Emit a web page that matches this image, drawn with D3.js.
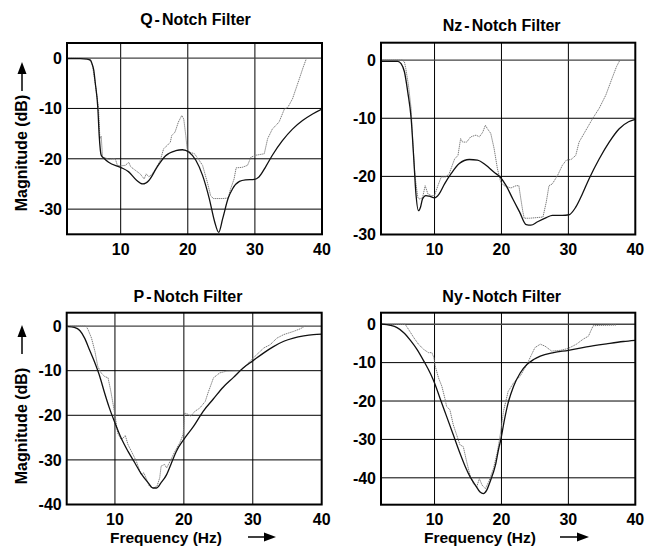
<!DOCTYPE html>
<html><head><meta charset="utf-8">
<script src="https://cdn.jsdelivr.net/npm/d3@7"></script>
<style>
html,body{margin:0;padding:0;background:#fff;}
text{font-family:"Liberation Sans",Arial,Helvetica,sans-serif;font-weight:bold;fill:#000;}
</style></head><body>
<svg id="chart" width="653" height="548"></svg>
<script>
// ---------- DATA ----------
const panelNames = ["Q", "Nz", "P", "Ny"];
const xTicks = [10, 20, 30, 40];
const qYTicks = [0, -10, -20, -30];
const nzYTicks = [0, -10, -20, -30];
const pYTicks = [0, -10, -20, -30, -40];
const nyYTicks = [0, -10, -20, -30, -40];

// [frequency Hz, magnitude dB]
const qTheory = [[2,-0.1],[4,-0.1],[5,-0.2],[5.5,-0.4],[5.7,-1],[6,-2.5],[6.2,-4.8],[6.6,-10],[6.8,-15.4],[7.1,-19.3],[7.5,-19.9],[8.2,-20.7],[10,-21.7],[11.2,-22.6],[12.4,-24.3],[13.3,-25],[14.2,-24.3],[15.4,-21.7],[16.7,-19.4],[18.2,-18.4],[19.2,-18.2],[20.2,-18.7],[21.2,-20.3],[22.2,-23.3],[23.2,-27.9],[24,-32.5],[24.6,-34.6],[25.2,-31.9],[26,-27.9],[26.7,-25.9],[27.7,-24.5],[28.6,-24.2],[29.9,-24.1],[30.6,-23.6],[31.6,-21.6],[32.6,-19.3],[34.1,-16.4],[35.6,-14.1],[37.1,-12.4],[38.6,-11.1],[40,-10.1]];
const qMeasured = [[2,0],[5,-0.1],[5.5,-0.5],[5.8,-1.5],[6.2,-5],[6.7,-10],[6.9,-16],[7.1,-15.5],[7.3,-19.7],[7.7,-19.8],[8.2,-20.1],[9.2,-20],[9.5,-21.3],[10,-21.4],[10.7,-21.3],[11.2,-20.7],[11.5,-21.6],[12.2,-22.3],[12.9,-23],[13.5,-24],[13.8,-23],[14.2,-23.6],[14.7,-23],[15.2,-22],[15.9,-20.3],[16.4,-18],[16.9,-17.4],[17.4,-16.7],[17.6,-15.4],[18.1,-14.7],[18.6,-12.7],[19.1,-11.4],[19.4,-12.1],[19.7,-15.4],[19.9,-18],[20.3,-18.7],[21,-19],[21.7,-20.3],[22.2,-21.3],[22.9,-24.6],[23.4,-27.3],[23.8,-27.9],[25.2,-27.9],[26,-27.8],[26.4,-25.9],[26.9,-24],[27.2,-21.8],[28.1,-21.7],[28.9,-21.3],[29.4,-19.7],[30.1,-19.3],[31.4,-19],[31.9,-16],[32.6,-14.1],[33.6,-12.7],[34.4,-10.1],[34.9,-9.8],[35.6,-8.1],[36.6,-4.2],[37.2,-1.8],[37.7,0]];

const nzTheory = [[2,-0.2],[4.5,-0.2],[5,-0.6],[5.5,-2],[6,-5.5],[6.5,-10],[6.9,-17],[7.2,-22.7],[7.6,-25.9],[7.9,-25.3],[8.2,-23.9],[8.7,-23.3],[9.2,-23.4],[10,-23.7],[10.7,-23],[11.5,-21.3],[12.5,-19.5],[13.7,-17.8],[15.2,-17.1],[16.4,-17.2],[17.7,-18.1],[18.9,-19.3],[19.8,-20.1],[20.7,-21.6],[21.7,-23.9],[22.7,-26.1],[23.7,-28.3],[24.4,-28.4],[25.4,-27.8],[26.7,-27.1],[27.6,-26.7],[29.1,-26.7],[30.1,-26.6],[31.1,-25.3],[32.1,-23],[33.1,-20.4],[34.6,-17],[36.1,-14.1],[37.6,-11.8],[39,-10.6],[40,-10.2]];
const nzMeasured = [[2,0],[5.2,0],[5.5,-0.3],[5.7,-1.4],[6.1,-4.3],[6.5,-8.3],[6.7,-12.9],[7,-18.7],[7.2,-21],[7.5,-23.6],[7.7,-23.9],[8.2,-23.7],[8.6,-21.6],[9,-23],[9.5,-23.3],[10,-23.3],[10.5,-21.6],[11,-20.1],[11.7,-20.1],[12.2,-19.5],[13,-17],[13.5,-16.4],[13.9,-13.5],[14.2,-14.1],[14.8,-14.1],[15.4,-13.2],[16.2,-12.9],[16.7,-13.2],[17.2,-12.4],[17.6,-11.2],[17.9,-11.8],[18.4,-12.6],[18.9,-15.2],[19.4,-18.7],[19.9,-21],[20.4,-21.6],[21.4,-22],[22.2,-21.6],[22.6,-21.6],[22.9,-23.9],[23.2,-26.1],[23.4,-27.2],[24.2,-27.2],[26.2,-27],[26.7,-24.4],[27.1,-21.6],[27.6,-21.3],[28.4,-19.8],[29.1,-18.1],[29.7,-17.2],[30.4,-17.1],[31.1,-16.4],[31.6,-14.1],[32.6,-12.1],[33.6,-10.1],[34.6,-8.3],[35.6,-6],[36.6,-2.9],[37.2,-1.1],[37.7,0]];

const pTheory = [[3.2,-0.1],[4.1,-0.3],[4.9,-1],[5.6,-2.7],[6.3,-5.3],[7,-7.9],[7.8,-11.3],[8.5,-15],[9.2,-18.4],[10,-21.7],[10.9,-25.1],[11.9,-28.1],[12.9,-30.7],[13.8,-33.1],[14.8,-35.1],[15.5,-36.3],[16,-36.3],[16.7,-35.1],[17.5,-33.3],[18.2,-30.7],[18.9,-28.1],[20,-25.4],[21.4,-22.5],[22.8,-19.1],[24.3,-16.3],[25.7,-13.7],[27.2,-11.5],[28.6,-9.4],[30,-7.8],[31.6,-6],[33,-4.6],[34.5,-3.4],[35.9,-2.7],[37.4,-2.2],[38.8,-1.9],[40,-1.8]];
const pMeasured = [[3.2,0],[5.8,0],[6.1,-0.8],[6.6,-2.7],[7.1,-5.7],[7.5,-9],[8,-10.5],[8.5,-11.3],[9,-11.6],[9.4,-14.6],[9.7,-17.2],[10,-19.9],[10.4,-24],[10.9,-25.4],[11.2,-25.1],[11.5,-24.5],[11.9,-26.6],[12.4,-28.1],[13.1,-30.3],[13.8,-33.3],[14.2,-32.9],[14.6,-34.4],[15,-35.9],[15.6,-36.3],[16.1,-35.9],[16.5,-34],[16.7,-31.4],[17.2,-31],[17.5,-31.8],[18,-30.3],[18.7,-28.1],[19.4,-26.2],[19.9,-24.3],[20.1,-19.5],[20.5,-19.7],[21,-20.2],[21.6,-19.1],[22.3,-18.4],[23.1,-16.9],[23.5,-15],[24.3,-11.6],[25.2,-10.5],[26.2,-10.1],[28.2,-10],[28.9,-9],[29.6,-7.9],[30.3,-6.8],[31.6,-4.9],[32.5,-4.2],[33.5,-2.7],[34.5,-1.9],[35.9,-1.2],[36.9,-0.6],[37.6,0]];

const nyTheory = [[2.1,0],[3.4,-0.3],[4.4,-0.9],[5.4,-2.2],[6.4,-4.2],[7.4,-6.6],[8.4,-9.6],[9.4,-12.9],[10,-15.3],[10.8,-19.2],[11.8,-24],[12.8,-28.8],[13.8,-33.6],[14.6,-37.1],[15.3,-39.7],[16.1,-41.9],[16.8,-43.7],[17.3,-44.1],[17.8,-43.2],[18.3,-41],[19.1,-36.7],[19.6,-32.3],[19.9,-30.1],[20.4,-25.3],[21,-20.5],[21.8,-16.2],[22.8,-12.7],[23.8,-10.5],[24.8,-9.2],[25.8,-8.3],[27.8,-7.4],[30,-6.8],[32.7,-5.9],[35.7,-5.1],[38.2,-4.5],[40,-4.2]];
const nyMeasured = [[2.1,0],[5.6,0],[6.1,-1.3],[6.9,-3.5],[7.6,-5.2],[8.4,-6.6],[9.1,-7.4],[9.6,-7.4],[9.9,-8.7],[10.1,-10.9],[10.6,-14],[11.1,-16.2],[11.6,-19.7],[11.8,-21.4],[12.3,-22.3],[12.8,-26.2],[13.3,-28.8],[13.8,-31.4],[14.3,-31.9],[14.8,-35.8],[15.3,-39.3],[15.8,-41.5],[16.3,-42.4],[16.7,-40.2],[17.1,-41.9],[17.6,-42.8],[18.1,-41],[18.8,-37.6],[19.4,-33.2],[19.9,-27.9],[20.3,-22.7],[20.7,-19.7],[21,-17.5],[21.8,-15.3],[22.8,-13.5],[23.8,-10.5],[24.5,-7.9],[25,-6.1],[25.8,-5.2],[26.5,-5.7],[27.5,-7],[28.8,-6.8],[30,-6.3],[31.2,-5.2],[32.2,-3.9],[33,-3.1],[33.7,-0.4],[34.7,-0.3],[37.2,-0.2]];

// ---------- LAYOUT ----------
const panels = [
  {title:"Q", xDom:[2,40], yDom:[-35,3], yTicks:qYTicks, theory:qTheory, meas:qMeasured,
   x0:67, x1:322, y0:234.3, y1:43, titleX:195.5, titleY:25, ylab:{x:27, cy:153, arrowX:22, tip:62, tail:91}, xlab:null},
  {title:"Nz", xDom:[2,40], yDom:[-30,3], yTicks:nzYTicks, theory:nzTheory, meas:nzMeasured,
   x0:381, x1:635.3, y0:234.5, y1:42.7, titleX:501.7, titleY:31, ylab:null, xlab:null},
  {title:"P", xDom:[3,40], yDom:[-40,3], yTicks:pYTicks, theory:pTheory, meas:pMeasured,
   x0:66.7, x1:321.7, y0:504.5, y1:312.7, titleX:188, titleY:302, ylab:{x:27, cy:426, arrowX:22, tip:325, tail:354}, xlab:{x:110, y:543, a0:248, a1:276, ay:537}},
  {title:"Ny", xDom:[2,40], yDom:[-47,3], yTicks:nyYTicks, theory:nyTheory, meas:nyMeasured,
   x0:381, x1:635.3, y0:504.7, y1:312.7, titleX:501.7, titleY:302, ylab:null, xlab:{x:424, y:543, a0:560, a1:589, ay:537}}
];

const svg = d3.select("#chart");
const defs = svg.append("defs");

panels.forEach((p, i) => {
  const x = d3.scaleLinear().domain(p.xDom).range([p.x0, p.x1]);
  const y = d3.scaleLinear().domain(p.yDom).range([p.y0, p.y1]);
  const g = svg.append("g");

  defs.append("clipPath").attr("id", "clip" + i).append("rect")
    .attr("x", p.x0).attr("y", p.y1).attr("width", p.x1 - p.x0).attr("height", p.y0 - p.y1);

  // grid lines
  g.selectAll(".vg").data(xTicks.filter(t => t < p.xDom[1])).join("line")
    .attr("x1", d => x(d)).attr("x2", d => x(d)).attr("y1", p.y1).attr("y2", p.y0)
    .attr("stroke", "#000").attr("stroke-width", 1);
  g.selectAll(".hg").data(p.yTicks.filter(t => t > p.yDom[0])).join("line")
    .attr("x1", p.x0).attr("x2", p.x1).attr("y1", d => y(d)).attr("y2", d => y(d))
    .attr("stroke", d => d === 0 ? "#444" : "#000").attr("stroke-width", d => d === 0 ? 1.4 : 1);

  const line = d3.line().x(d => x(d[0])).y(d => y(d[1]));
  const cg = g.append("g").attr("clip-path", "url(#clip" + i + ")");
  cg.append("path").datum(p.meas)
    .attr("d", line.curve(d3.curveLinear))
    .attr("fill", "none").attr("stroke", "#7a7a7a").attr("stroke-width", 1)
    .attr("stroke-dasharray", "1.3,0.7");
  cg.append("path").datum(p.theory)
    .attr("d", d3.line().x(d => x(d[0])).y(d => y(d[1])).curve(d3.curveMonotoneX))
    .attr("fill", "none").attr("stroke", "#111").attr("stroke-width", 1.3);

  // frame
  g.append("rect").attr("x", p.x0).attr("y", p.y1)
    .attr("width", p.x1 - p.x0).attr("height", p.y0 - p.y1)
    .attr("fill", "none").attr("stroke", "#000").attr("stroke-width", 2);

  // tick labels
  g.selectAll(".yt").data(p.yTicks).join("text")
    .attr("x", p.x0 - 5).attr("y", d => y(d)).attr("dy", "0.36em")
    .attr("text-anchor", "end").attr("font-size", 16).text(d => d);
  g.selectAll(".xt").data(xTicks).join("text")
    .attr("x", d => x(d)).attr("y", p.y0 + 20.5)
    .attr("text-anchor", "middle").attr("font-size", 16).text(d => d);

  // title
  const t = g.append("text").attr("x", p.titleX).attr("y", p.titleY)
    .attr("text-anchor", "middle").attr("font-size", 16);
  t.append("tspan").text(p.title);
  t.append("tspan").attr("dx", 2).text("-");
  t.append("tspan").attr("dx", 2).text("Notch Filter");

  // y label with arrow
  if (p.ylab) {
    g.append("text").attr("transform", `translate(${p.ylab.x},${p.ylab.cy}) rotate(-90)`)
      .attr("text-anchor", "middle").attr("font-size", 16).text("Magnitude (dB)");
    g.append("line").attr("x1", p.ylab.arrowX).attr("x2", p.ylab.arrowX)
      .attr("y1", p.ylab.tail).attr("y2", p.ylab.tip + 8)
      .attr("stroke", "#000").attr("stroke-width", 1.5);
    g.append("path").attr("d", `M${p.ylab.arrowX},${p.ylab.tip} l-4.5,12 l9,0 z`).attr("fill", "#000");
  }
  if (p.xlab) {
    g.append("text").attr("x", p.xlab.x).attr("y", p.xlab.y)
      .attr("text-anchor", "start").attr("font-size", 15.5).text("Frequency (Hz)");
    g.append("line").attr("x1", p.xlab.a0).attr("x2", p.xlab.a1 - 8)
      .attr("y1", p.xlab.ay).attr("y2", p.xlab.ay)
      .attr("stroke", "#000").attr("stroke-width", 1.5);
    g.append("path").attr("d", `M${p.xlab.a1},${p.xlab.ay} l-12,-4.5 l0,9 z`).attr("fill", "#000");
  }
});
</script>
</body></html>
